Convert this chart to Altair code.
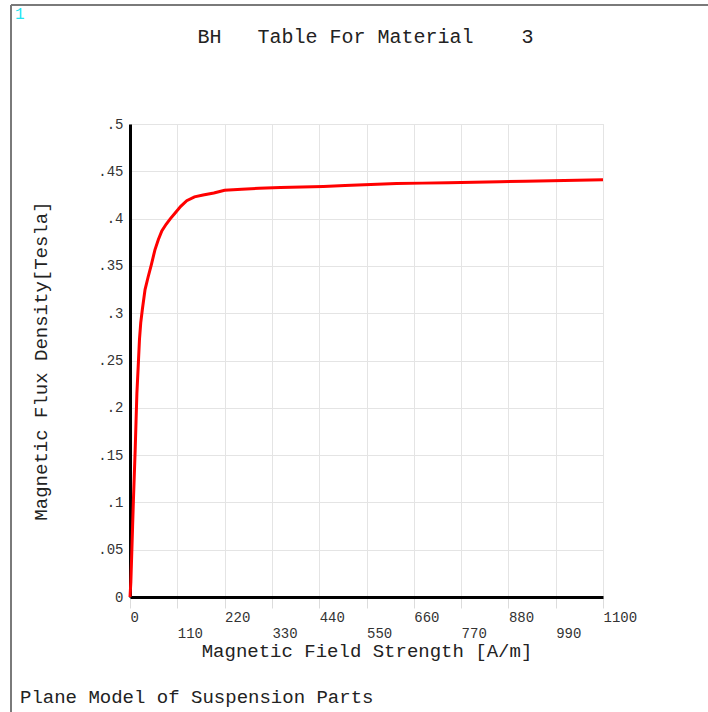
import altair as alt
import pandas as pd

# B-H table for material 3
h_field = [0, 2, 4, 6, 8, 10, 12, 14, 16, 19, 22, 25, 29, 35, 42, 50, 58, 66, 74,
           84, 94, 105, 118, 132, 150, 170, 195, 220, 260, 300, 350, 400, 450,
           500, 560, 620, 680, 740, 800, 860, 920, 980, 1040, 1100]
b_flux = [0.0, 0.016, 0.045, 0.074, 0.103, 0.129, 0.155, 0.185, 0.215, 0.243,
          0.272, 0.290, 0.305, 0.325, 0.338, 0.352, 0.367, 0.378, 0.387, 0.394,
          0.400, 0.406, 0.413, 0.419, 0.423, 0.425, 0.427, 0.430, 0.431, 0.432,
          0.433, 0.4335, 0.434, 0.435, 0.436, 0.437, 0.4375, 0.438, 0.4385,
          0.439, 0.4395, 0.440, 0.4405, 0.441]

x_ticks = [0, 110, 220, 330, 440, 550, 660, 770, 880, 990, 1100]
y_ticks = [0, 0.05, 0.1, 0.15, 0.2, 0.25, 0.3, 0.35, 0.4, 0.45, 0.5]

title_text = "BH\u00a0\u00a0\u00a0Table For Material\u00a0\u00a0\u00a0\u00a03"
x_title = "Magnetic Field Strength [A/m]"
y_title = "Magnetic Flux Density[Tesla]"
caption = "Plane Model of Suspension Parts"
window_no = "1"

FONT = "Liberation Mono"
W, H = 473, 473
PAD_L, PAD_T = 130, 124

df = pd.DataFrame({"H": h_field, "B": b_flux})

x_axis = alt.Axis(
    values=x_ticks,
    format="d",
    title=x_title,
    titleFont=FONT, titleFontSize=19, titleFontWeight="normal", titleColor="#222",
    titleX=W / 2, titleY=59, titleAlign="center", titleBaseline="alphabetic",
    labelFont=FONT, labelFontSize=14, labelColor="#333",
    labelAlign="left", labelBaseline="alphabetic",
    labelPadding={"condition": {"test": "datum.value % 220 != 0", "value": 29}, "value": 13},
    labelOverlap=False, labelFlush=False,
    domainColor="black", domainWidth=3,
    ticks=True, tickColor="#dcdcdc", tickSize=11, tickWidth=1,
    grid=True, gridColor="#e4e4e4", gridWidth=1,
)

y_axis = alt.Axis(
    values=y_ticks,
    labelExpr="datum.value == 0 ? '0' : substring(format(datum.value, '.2~f'), 1)",
    title=y_title,
    titleFont=FONT, titleFontSize=19, titleFontWeight="normal", titleColor="#222",
    titleX=-84, titleY=H / 2, titleAngle=-90, titleAlign="center",
    titleBaseline="alphabetic",
    labelFont=FONT, labelFontSize=14, labelColor="#333",
    labelPadding=7, labelOverlap=False, labelFlush=False,
    domainColor="black", domainWidth=3,
    ticks=False,
    grid=True, gridColor="#e4e4e4", gridWidth=1,
)

curve = alt.Chart(df).mark_line(color="#ff0000", strokeWidth=3).encode(
    x=alt.X("H:Q", scale=alt.Scale(domain=[0, 1100], nice=False), axis=x_axis),
    y=alt.Y("B:Q", scale=alt.Scale(domain=[0, 0.5], nice=False), axis=y_axis),
    order="H:Q",
)

one_row = pd.DataFrame({"t": [caption]})

# window frame: top and left edges
frame_top = alt.Chart(one_row).mark_rule(color="#7a7a7a", strokeWidth=2).encode(
    x=alt.value(11 - PAD_L), x2=alt.value(708 - PAD_L), y=alt.value(5 - PAD_T)
)
frame_left = alt.Chart(one_row).mark_rule(color="#7a7a7a", strokeWidth=2).encode(
    x=alt.value(11 - PAD_L), y=alt.value(5 - PAD_T), y2=alt.value(712 - PAD_T)
)

# plot heading, centred over the plot area
title_mark = alt.Chart(pd.DataFrame({"t": [title_text]})).mark_text(
    font=FONT, fontSize=20, color="#222", align="center", baseline="alphabetic"
).encode(text="t:N", x=alt.value(W / 2 - 1), y=alt.value(43 - PAD_T))

caption_mark = alt.Chart(one_row).mark_text(
    font=FONT, fontSize=19, color="#222", align="left", baseline="alphabetic"
).encode(text="t:N", x=alt.value(20 - PAD_L), y=alt.value(703 - PAD_T))

win_mark = alt.Chart(pd.DataFrame({"t": [window_no]})).mark_text(
    font=FONT, fontSize=16, color="#22e5f2", align="left", baseline="alphabetic"
).encode(text="t:N", x=alt.value(15 - PAD_L), y=alt.value(19 - PAD_T))

chart = alt.layer(curve, frame_top, frame_left, title_mark, caption_mark, win_mark).properties(
    width=W,
    height=H,
    autosize=alt.AutoSizeParams(type="none"),
    padding={"left": PAD_L, "top": PAD_T, "right": 708 - PAD_L - W, "bottom": 712 - PAD_T - H},
).configure_view(stroke=None).configure(background="white")

chart.save("out.html", embed_options={"renderer": "svg", "actions": False})
